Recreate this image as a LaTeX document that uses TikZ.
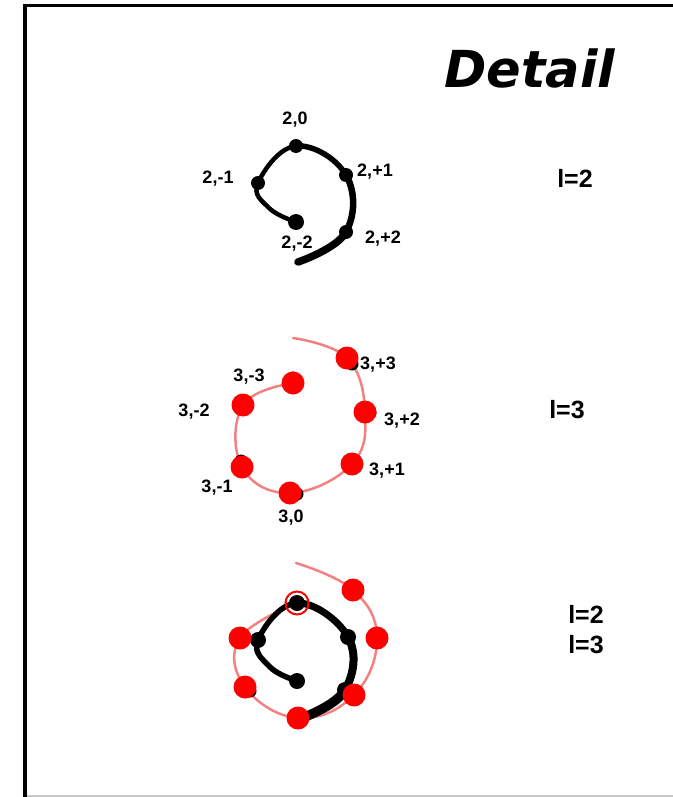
\documentclass[tikz,border=0pt]{standalone}
\usepackage{fontspec}
\setmainfont{Liberation Sans}
\newfontfamily\titlefont{DejaVu Sans}
\begin{document}
\begin{tikzpicture}[x=1pt,y=-1pt,
  bdot/.style={circle,fill=black,inner sep=0pt,minimum size=14pt},
  sdot/.style={circle,fill=black,inner sep=0pt,minimum size=13pt},
  rdot/.style={circle,fill=red,inner sep=0pt,minimum size=23pt},
  ring/.style={circle,draw=red,line width=2pt,inner sep=0pt,minimum size=23pt},
  lab/.style={font=\bfseries\fontsize{18}{18}\selectfont,inner sep=0pt},
  llab/.style={font=\bfseries\fontsize{25}{25}\selectfont,inner sep=0pt},
  pinkarc/.style={draw={rgb,255:red,242;green,130;blue,130},line width=2.5pt,line cap=round},
  blackarc/.style={draw=black,line cap=round}]
\useasboundingbox (0,0) rectangle (672,797);
% frame
\draw[line width=3pt] (23.5,6) -- (680,6);
\draw[line width=3.5pt] (25,4.5) -- (25,800);
\draw[black!22,line width=2pt] (27,796) -- (680,796);
% title
\node[inner sep=0pt,font=\titlefont\bfseries\itshape\fontsize{51}{51}\selectfont] (title) at (530,68) {Detail};

% ---------- l = 2 ----------
\coordinate (aend) at (298,262);
\coordinate (am2) at (296,222);
\coordinate (amid) at (269,208);
\coordinate (am1) at (258,183);
\coordinate (a0) at (296,146);
\coordinate (ap1) at (346,175);
\coordinate (ap2) at (346,232);
\draw[blackarc,line width=4.5pt] plot[smooth,tension=0.7] coordinates {(am2) (amid) (am1) (a0) (ap1) (ap2) (aend)};
\begin{scope}
\clip (301,100) rectangle (420,300) (250,245) rectangle (420,300);
\draw[blackarc,line width=5.5pt] plot[smooth,tension=0.7] coordinates {(am2) (amid) (am1) (a0) (ap1) (ap2) (aend)};
\end{scope}
\begin{scope}
\clip (300,176) rectangle (420,300) (250,245) rectangle (420,300);
\draw[blackarc,line width=6.5pt] plot[smooth,tension=0.7] coordinates {(am2) (amid) (am1) (a0) (ap1) (ap2) (aend)};
\end{scope}
\begin{scope}
\clip (300,233) rectangle (420,300) (250,245) rectangle (420,300);
\draw[blackarc,line width=7.5pt] plot[smooth,tension=0.7] coordinates {(am2) (amid) (am1) (a0) (ap1) (ap2) (aend)};
\end{scope}
\node[bdot,minimum size=16pt] (dam2) at (am2) {};
\node[bdot] (dam1) at (am1) {};
\node[bdot] (da0) at (a0) {};
\node[bdot] (dap1) at (ap1) {};
\node[bdot] (dap2) at (ap2) {};
\node[lab] (la0) at (295,120) {2,0};
\node[lab] (lam1) at (218,179) {2,-1};
\node[lab] (lap1) at (375,172) {2,+1};
\node[lab] (lam2) at (297,244) {2,-2};
\node[lab] (lap2) at (383,239) {2,+2};
\node[llab] (l2) at (575,178) {l=2};

% ---------- l = 3 ----------
\coordinate (cm3) at (293,383);
\coordinate (cm2) at (243,405);
\coordinate (cm1) at (242,467);
\coordinate (c0) at (290,493);
\coordinate (cp1) at (352,464);
\coordinate (cp2) at (365,412);
\coordinate (cp3) at (347,358);
\coordinate (cend) at (293,338);
\draw[pinkarc] plot[smooth,tension=0.7] coordinates {(cm3) (cm2) (cm1) (c0) (cp1) (cp2) (cp3) (cend)};
\node[sdot] (sm3) at (293,378) {};
\node[sdot] (sp2) at (370,413) {};
\node[sdot] (sm1) at (241,461) {};
\node[sdot] (s0) at (297,494) {};
\node[sdot] (sp3) at (352,364) {};
\node[rdot] (dcm3) at (cm3) {};
\node[rdot] (dcm2) at (cm2) {};
\node[rdot] (dcm1) at (cm1) {};
\node[rdot] (dc0) at (c0) {};
\node[rdot] (dcp1) at (cp1) {};
\node[rdot] (dcp2) at (cp2) {};
\node[rdot] (dcp3) at (cp3) {};
\node[lab] (lcp3) at (378,365) {3,+3};
\node[lab] (lcm3) at (249,377) {3,-3};
\node[lab] (lcm2) at (194,412) {3,-2};
\node[lab] (lcp2) at (402,421) {3,+2};
\node[lab] (lcp1) at (387,471) {3,+1};
\node[lab] (lcm1) at (217,488) {3,-1};
\node[lab] (lc0) at (291,518) {3,0};
\node[llab] (l3) at (567,410) {l=3};

% ---------- combined ----------
\coordinate (bm2) at (297,681);
\coordinate (bmid) at (270,667);
\coordinate (bm1) at (258,640);
\coordinate (b0) at (297,603);
\coordinate (bp1) at (348,637);
\coordinate (bp2) at (345,690);
\coordinate (bend) at (302,718);
\coordinate (e1) at (240,638);
\coordinate (e2) at (245,687);
\coordinate (e3) at (298,718);
\coordinate (e4) at (354,695);
\coordinate (e5) at (377,638);
\coordinate (e6) at (353,590);
\coordinate (eend) at (296,563);
\draw[pinkarc] plot[smooth,tension=0.7] coordinates {(b0) (e1) (e2) (e3) (e4) (e5) (e6) (eend)};
\draw[blackarc,line width=5.5pt] plot[smooth,tension=0.7] coordinates {(bm2) (bmid) (bm1) (b0) (bp1) (bp2) (bend)};
\begin{scope}
\clip (302,560) rectangle (420,760) (250,705) rectangle (420,760);
\draw[blackarc,line width=7pt] plot[smooth,tension=0.7] coordinates {(bm2) (bmid) (bm1) (b0) (bp1) (bp2) (bend)};
\end{scope}
\begin{scope}
\clip (300,638) rectangle (420,760) (250,705) rectangle (420,760);
\draw[blackarc,line width=8pt] plot[smooth,tension=0.7] coordinates {(bm2) (bmid) (bm1) (b0) (bp1) (bp2) (bend)};
\end{scope}
\begin{scope}
\clip (300,690) rectangle (420,760) (250,705) rectangle (420,760);
\draw[blackarc,line width=9.5pt] plot[smooth,tension=0.7] coordinates {(bm2) (bmid) (bm1) (b0) (bp1) (bp2) (bend)};
\end{scope}
\node[bdot,minimum size=16pt] (dbm2) at (bm2) {};
\node[bdot,minimum size=16pt] (dbm1) at (bm1) {};
\node[bdot,minimum size=16pt] (db0) at (b0) {};
\node[bdot,minimum size=16pt] (dbp1) at (bp1) {};
\node[bdot,minimum size=16pt] (dbp2) at (bp2) {};
\node[sdot] (se2) at (250,691) {};
\node[rdot] (de1) at (e1) {};
\node[rdot] (de2) at (e2) {};
\node[rdot] (de3) at (e3) {};
\node[rdot] (de4) at (e4) {};
\node[rdot] (de5) at (e5) {};
\node[rdot] (de6) at (e6) {};
\node[ring] (rb0) at (b0) {};
\node[llab] (l2b) at (586,614) {l=2};
\node[llab] (l3b) at (586,645) {l=3};
\end{tikzpicture}
\end{document}
